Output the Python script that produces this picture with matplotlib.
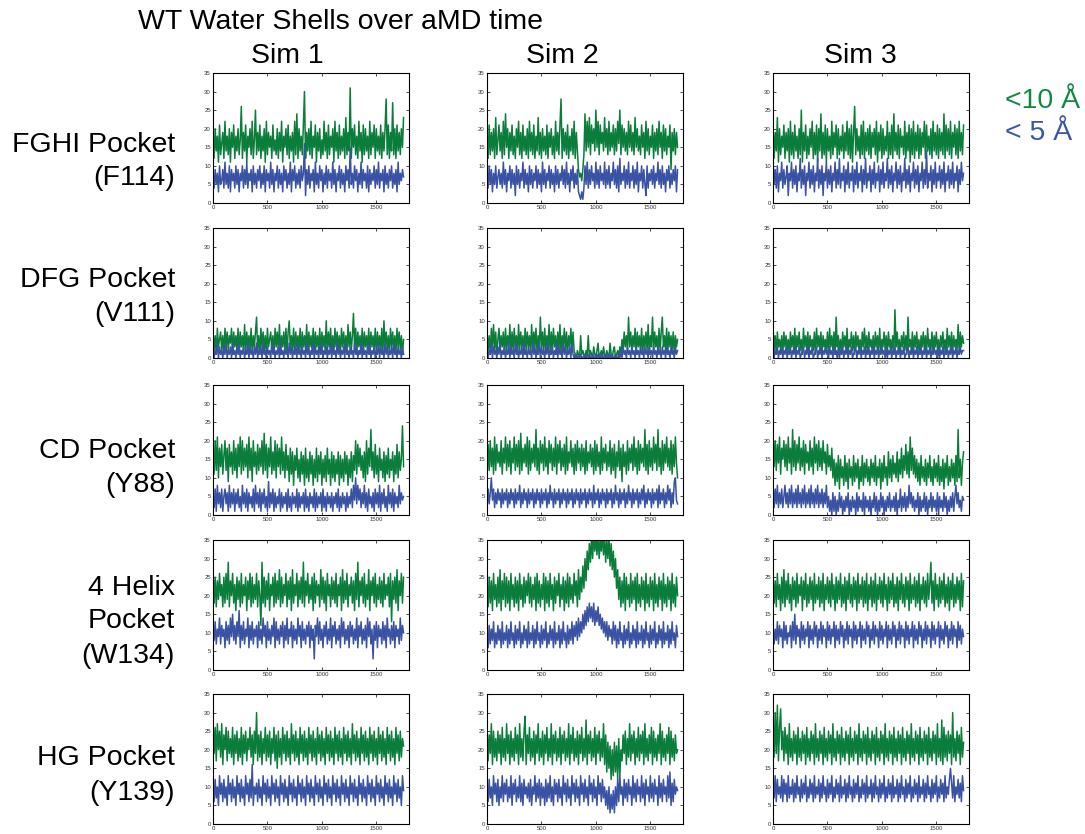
import matplotlib
import numpy as np

matplotlib.use("Agg")
import matplotlib.pyplot as plt

plt.rcParams["font.family"] = ["Liberation Sans", "DejaVu Sans"]

# water counts, one sample every 10 time units
STEP = 10

fghi_sim1_10 = [17, 12, 20, 14, 18, 11, 21, 13, 16, 19, 12, 22, 14, 18, 13, 20, 11, 19, 15, 21, 12, 18,
                14, 20, 13, 17, 26, 12, 19, 14, 21, 11, 18, 15, 20, 13, 22, 12, 17, 25, 13, 19, 14, 21,
                12, 18, 14, 20, 11, 22, 13, 19, 15, 18, 12, 21, 14, 17, 13, 20, 12, 19, 14, 22, 11, 18,
                15, 20, 13, 21, 12, 18, 14, 19, 11, 22, 13, 24, 12, 20, 14, 18, 13, 21, 30, 12, 19, 14,
                20, 13, 22, 12, 18, 15, 21, 11, 19, 14, 20, 12, 17, 13, 22, 14, 19, 12, 21, 13, 18, 15,
                20, 11, 22, 14, 19, 12, 21, 13, 18, 14, 20, 12, 23, 13, 19, 14, 31, 12, 20, 15, 21, 13,
                18, 12, 22, 14, 19, 11, 21, 13, 20, 14, 18, 12, 22, 13, 19, 15, 21, 12, 20, 14, 18, 13,
                21, 12, 19, 14, 20, 28, 13, 21, 12, 19, 14, 27, 13, 20, 12, 21, 14, 19, 13, 20, 15, 23]
fghi_sim1_5 = [7, 4, 9, 5, 8, 3, 10, 5, 6, 9, 4, 11, 5, 8, 4, 10, 3, 9, 6, 8, 4, 10,
               5, 9, 3, 8, 6, 10, 4, 9, 5, 11, 4, 8, 6, 9, 3, 10, 5, 8, 4, 9, 6, 10,
               4, 8, 5, 10, 3, 9, 6, 8, 4, 11, 5, 9, 3, 8, 6, 10, 4, 9, 5, 8, 3, 10,
               6, 9, 4, 8, 5, 11, 3, 9, 6, 10, 4, 8, 5, 9, 4, 10, 6, 8, 16, 2, 9, 5,
               10, 4, 8, 6, 9, 3, 11, 5, 8, 4, 10, 6, 9, 3, 8, 5, 10, 4, 9, 6, 8, 4,
               11, 5, 9, 3, 8, 6, 10, 4, 9, 5, 8, 3, 10, 6, 9, 4, 15, 5, 8, 4, 10, 6,
               9, 3, 8, 5, 11, 4, 9, 6, 8, 4, 10, 3, 9, 5, 8, 6, 10, 4, 9, 5, 11, 4,
               8, 6, 9, 3, 10, 5, 8, 4, 9, 6, 10, 4, 8, 5, 9, 3, 11, 5, 8, 6, 9, 7]
fghi_sim2_10 = [18, 12, 21, 13, 19, 14, 20, 12, 23, 13, 17, 21, 14, 19, 12, 22, 13, 24, 15, 20, 12, 19,
                14, 21, 13, 18, 12, 20, 15, 22, 13, 19, 12, 21, 14, 18, 13, 20, 12, 22, 14, 19, 13, 21,
                12, 18, 14, 23, 13, 19, 12, 20, 14, 18, 13, 21, 12, 19, 15, 20, 13, 18, 12, 22, 14, 19,
                13, 21, 28, 12, 20, 14, 19, 13, 21, 12, 18, 14, 20, 13, 22, 12, 19, 14, 9, 7, 8, 6,
                9, 13, 24, 14, 22, 15, 23, 13, 21, 16, 20, 14, 25, 15, 22, 13, 21, 16, 19, 14, 23, 15,
                20, 13, 22, 14, 19, 15, 21, 13, 20, 14, 22, 16, 25, 13, 21, 15, 20, 14, 19, 13, 22, 15,
                21, 14, 19, 13, 23, 15, 20, 14, 18, 13, 21, 15, 19, 12, 22, 14, 20, 13, 18, 15, 21, 12,
                19, 14, 20, 13, 22, 15, 19, 12, 21, 14, 20, 13, 18, 15, 21, 9, 19, 14, 20, 13, 19, 15]
fghi_sim2_5 = [7, 4, 10, 5, 9, 3, 8, 5, 10, 4, 7, 9, 5, 8, 4, 11, 5, 9, 3, 8, 6, 10,
               4, 9, 5, 8, 2, 10, 5, 9, 4, 8, 6, 11, 4, 9, 5, 8, 3, 10, 5, 9, 4, 8,
               6, 10, 4, 9, 5, 8, 3, 11, 5, 9, 4, 8, 6, 10, 4, 9, 5, 8, 3, 10, 5, 9,
               4, 8, 6, 10, 5, 9, 4, 11, 5, 8, 3, 9, 6, 10, 4, 8, 5, 9, 3, 2, 1, 3,
               1, 4, 10, 5, 11, 4, 9, 5, 10, 6, 8, 4, 11, 5, 9, 4, 10, 6, 8, 5, 11, 4,
               9, 5, 10, 4, 8, 6, 11, 5, 9, 4, 10, 3, 12, 5, 8, 6, 10, 4, 9, 5, 11, 4,
               8, 6, 10, 4, 9, 5, 11, 3, 8, 6, 10, 4, 9, 5, 2, 10, 4, 8, 6, 9, 5, 10,
               4, 8, 6, 11, 5, 9, 4, 10, 5, 8, 3, 9, 6, 10, 4, 8, 5, 9, 6, 10, 3, 9]
fghi_sim3_10 = [21, 12, 19, 14, 23, 11, 20, 13, 18, 15, 21, 12, 19, 14, 20, 11, 22, 13, 19, 12, 21, 14,
                18, 12, 20, 13, 25, 11, 19, 14, 21, 12, 18, 13, 20, 15, 22, 12, 19, 13, 21, 11, 20, 14,
                24, 12, 19, 13, 21, 11, 20, 14, 18, 12, 22, 13, 19, 15, 21, 12, 20, 13, 18, 14, 21, 12,
                19, 14, 22, 13, 20, 12, 21, 11, 19, 26, 13, 20, 14, 18, 12, 21, 13, 22, 12, 19, 14, 20,
                13, 21, 12, 19, 15, 20, 13, 22, 11, 19, 14, 21, 12, 20, 13, 18, 14, 22, 12, 19, 13, 21,
                12, 24, 14, 19, 13, 21, 12, 20, 15, 18, 13, 22, 12, 19, 14, 21, 11, 20, 13, 22, 12, 19,
                14, 21, 12, 20, 13, 19, 15, 22, 12, 21, 14, 18, 13, 20, 12, 22, 14, 19, 13, 21, 12, 20,
                14, 19, 13, 24, 12, 21, 14, 20, 13, 22, 12, 19, 15, 21, 13, 20, 12, 22, 14, 19, 13, 21]
fghi_sim3_5 = [12, 5, 9, 4, 10, 3, 8, 6, 11, 4, 9, 5, 7, 10, 2, 8, 6, 11, 4, 9, 5, 10,
               3, 8, 6, 12, 4, 9, 5, 10, 2, 8, 6, 11, 4, 9, 5, 10, 3, 8, 6, 12, 4, 9,
               5, 10, 2, 8, 6, 11, 4, 9, 5, 10, 3, 8, 6, 11, 4, 9, 5, 12, 4, 8, 6, 10,
               3, 9, 5, 11, 4, 8, 6, 10, 3, 9, 5, 11, 4, 8, 6, 10, 3, 9, 5, 12, 4, 8,
               6, 10, 3, 9, 5, 11, 4, 8, 6, 10, 3, 9, 5, 11, 4, 8, 6, 12, 4, 9, 5, 10,
               3, 8, 6, 11, 4, 9, 5, 10, 3, 8, 6, 12, 4, 9, 5, 10, 3, 8, 6, 11, 4, 9,
               5, 10, 3, 8, 6, 11, 4, 9, 5, 14, 4, 8, 6, 10, 3, 9, 5, 11, 4, 8, 6, 10,
               4, 9, 5, 11, 3, 8, 6, 10, 4, 9, 5, 11, 4, 8, 6, 10, 3, 9, 5, 11, 6, 8]

dfg_sim1_10 = [7, 2, 6, 1, 8, 3, 5, 7, 2, 6, 1, 8, 3, 7, 2, 6, 4, 8, 1, 7, 3, 6,
               2, 8, 1, 7, 3, 6, 2, 9, 1, 7, 3, 6, 2, 8, 1, 6, 3, 7, 11, 2, 6, 1,
               8, 3, 7, 2, 6, 1, 8, 3, 5, 7, 2, 6, 1, 8, 3, 7, 2, 9, 1, 6, 3, 7,
               2, 8, 1, 7, 10, 3, 6, 2, 8, 1, 7, 3, 6, 2, 8, 1, 7, 3, 6, 2, 9, 1,
               7, 3, 6, 2, 8, 1, 7, 3, 6, 2, 8, 1, 7, 3, 6, 2, 10, 1, 7, 3, 8, 2,
               6, 1, 8, 3, 7, 2, 6, 1, 8, 3, 7, 2, 6, 1, 9, 3, 7, 2, 6, 12, 3, 8,
               1, 7, 3, 6, 2, 8, 1, 7, 3, 6, 2, 8, 1, 7, 3, 6, 2, 8, 1, 7, 3, 6,
               2, 8, 1, 10, 3, 7, 2, 6, 1, 8, 3, 7, 2, 6, 1, 8, 3, 7, 2, 6, 1, 5]
dfg_sim1_5 = [3, 0, 2, 1, 4, 0, 3, 1, 2, 0, 3, 1, 4, 0, 2, 1, 3, 0, 4, 1, 2, 0,
              3, 1, 4, 0, 2, 1, 3, 0, 2, 1, 4, 0, 3, 1, 2, 0, 3, 1, 4, 0, 2, 1,
              3, 0, 4, 1, 2, 0, 3, 1, 2, 0, 4, 1, 3, 0, 2, 1, 3, 0, 4, 1, 2, 0,
              3, 1, 2, 0, 4, 1, 3, 0, 2, 1, 3, 0, 4, 1, 2, 0, 3, 1, 2, 0, 4, 1,
              3, 0, 2, 1, 4, 0, 3, 1, 2, 0, 3, 1, 4, 0, 2, 1, 3, 0, 2, 1, 4, 0,
              3, 1, 2, 0, 4, 1, 3, 0, 2, 1, 3, 0, 4, 1, 2, 0, 3, 1, 2, 0, 4, 1,
              3, 0, 2, 1, 4, 0, 3, 1, 2, 0, 3, 1, 4, 0, 2, 1, 3, 0, 2, 1, 4, 0,
              3, 1, 2, 0, 4, 1, 3, 0, 2, 1, 3, 0, 4, 1, 2, 0, 3, 1, 2, 0, 3, 1]
dfg_sim2_10 = [7, 2, 6, 1, 8, 3, 9, 2, 7, 1, 5, 8, 2, 6, 3, 7, 1, 8, 2, 6, 3, 9,
               1, 7, 2, 8, 3, 6, 1, 9, 2, 7, 3, 6, 1, 8, 2, 7, 3, 6, 1, 9, 2, 7,
               3, 8, 1, 6, 2, 11, 3, 7, 1, 8, 2, 6, 3, 9, 1, 7, 2, 8, 3, 6, 1, 7,
               2, 9, 1, 6, 3, 8, 2, 7, 1, 6, 3, 8, 2, 7, 2, 1, 0, 2, 1, 0, 6, 1,
               2, 1, 0, 2, 1, 6, 0, 2, 1, 0, 3, 1, 0, 2, 4, 0, 1, 2, 0, 3, 1, 0,
               2, 1, 0, 4, 1, 0, 2, 3, 0, 1, 2, 0, 3, 1, 5, 2, 7, 3, 6, 2, 11, 3,
               7, 2, 6, 3, 8, 1, 7, 3, 6, 2, 8, 1, 6, 3, 7, 2, 9, 1, 6, 3, 11, 2,
               7, 3, 6, 1, 8, 2, 7, 11, 3, 6, 2, 8, 1, 7, 3, 6, 2, 7, 1, 6, 3, 5]
dfg_sim2_5 = [3, 0, 2, 1, 4, 0, 3, 1, 2, 0, 3, 1, 4, 0, 2, 1, 3, 0, 2, 1, 4, 0,
              3, 1, 2, 0, 4, 1, 3, 0, 2, 1, 3, 0, 4, 1, 2, 0, 3, 1, 2, 0, 4, 1,
              3, 0, 2, 1, 4, 0, 3, 1, 2, 0, 3, 1, 4, 0, 2, 1, 3, 0, 2, 1, 4, 0,
              3, 1, 2, 0, 4, 1, 3, 0, 2, 1, 3, 0, 4, 1, 0, 1, 0, 0, 1, 0, 1, 0,
              0, 1, 0, 0, 1, 0, 1, 0, 0, 1, 0, 0, 1, 0, 1, 0, 0, 1, 0, 0, 1, 0,
              1, 0, 0, 1, 0, 1, 0, 0, 1, 0, 0, 1, 0, 2, 0, 3, 1, 2, 0, 3, 1, 2,
              0, 3, 1, 2, 0, 3, 1, 2, 0, 3, 1, 2, 0, 3, 1, 2, 0, 3, 1, 2, 0, 3,
              1, 2, 0, 3, 1, 2, 0, 3, 1, 2, 0, 3, 1, 2, 0, 3, 1, 2, 0, 3, 1, 2]
dfg_sim3_10 = [9, 2, 6, 1, 7, 3, 5, 2, 6, 1, 7, 3, 6, 2, 5, 1, 7, 3, 6, 2, 8, 1,
               6, 3, 7, 2, 5, 1, 8, 3, 6, 2, 7, 1, 6, 3, 5, 2, 7, 1, 8, 3, 6, 2,
               7, 1, 6, 3, 5, 2, 7, 1, 8, 3, 6, 2, 7, 1, 11, 3, 6, 2, 5, 1, 7, 3,
               6, 2, 8, 1, 5, 3, 7, 2, 6, 1, 7, 3, 6, 2, 5, 1, 7, 3, 8, 2, 6, 1,
               7, 3, 5, 2, 6, 1, 7, 3, 6, 2, 8, 1, 5, 3, 7, 2, 6, 1, 7, 3, 5, 2,
               6, 1, 13, 3, 7, 2, 5, 1, 6, 3, 7, 2, 6, 1, 11, 3, 5, 2, 7, 1, 6, 3,
               7, 2, 5, 1, 6, 3, 7, 2, 6, 1, 8, 3, 5, 2, 7, 1, 6, 3, 7, 2, 5, 1,
               6, 3, 7, 2, 5, 1, 8, 3, 6, 2, 7, 1, 6, 3, 5, 2, 9, 1, 7, 3, 6, 4]
dfg_sim3_5 = [3, 0, 2, 1, 3, 0, 2, 1, 3, 0, 2, 1, 3, 0, 2, 1, 3, 0, 2, 1, 3, 0,
              2, 1, 3, 0, 1, 2, 3, 0, 2, 1, 3, 0, 2, 1, 3, 0, 1, 2, 3, 0, 2, 1,
              3, 0, 2, 1, 3, 1, 2, 0, 3, 1, 2, 0, 3, 1, 2, 0, 3, 0, 2, 1, 3, 0,
              2, 1, 3, 0, 2, 1, 3, 0, 1, 2, 3, 0, 2, 1, 3, 0, 2, 1, 3, 0, 2, 1,
              3, 0, 2, 1, 3, 0, 2, 1, 3, 0, 2, 1, 3, 1, 2, 0, 3, 0, 2, 1, 3, 0,
              2, 1, 3, 0, 2, 1, 3, 0, 2, 1, 3, 0, 1, 2, 3, 0, 2, 1, 3, 0, 2, 1,
              3, 0, 2, 1, 3, 0, 2, 1, 3, 0, 2, 1, 3, 0, 2, 1, 3, 1, 2, 0, 3, 0,
              2, 1, 3, 0, 2, 1, 3, 0, 2, 1, 3, 0, 2, 1, 3, 0, 2, 1, 3, 1, 2, 2]

cd_sim1_10 = [17, 11, 20, 12, 21, 10, 18, 13, 19, 11, 16, 20, 12, 18, 9, 19, 13, 17, 11, 20, 12, 18,
              10, 19, 13, 21, 11, 20, 12, 18, 13, 19, 10, 21, 12, 18, 9, 20, 13, 17, 11, 19, 12, 18,
              13, 20, 11, 22, 12, 19, 10, 18, 13, 21, 11, 17, 12, 20, 10, 19, 13, 18, 11, 21, 12, 17,
              10, 19, 12, 16, 9, 18, 11, 17, 8, 16, 12, 18, 10, 15, 9, 17, 11, 16, 8, 18, 10, 15,
              9, 17, 11, 16, 8, 15, 10, 18, 9, 16, 11, 17, 8, 15, 10, 16, 9, 18, 11, 15, 8, 17,
              10, 16, 9, 15, 11, 17, 8, 16, 10, 15, 9, 17, 11, 16, 8, 15, 10, 17, 9, 16, 12, 20,
              11, 19, 13, 18, 12, 16, 10, 17, 9, 20, 11, 18, 13, 23, 12, 17, 10, 19, 11, 16, 9, 18,
              12, 15, 10, 17, 9, 16, 11, 18, 10, 15, 12, 17, 9, 16, 11, 19, 10, 17, 12, 15, 24, 13]
cd_sim1_5 = [6, 2, 7, 1, 8, 3, 6, 2, 7, 1, 5, 7, 3, 6, 1, 8, 2, 6, 3, 7, 1, 6,
             3, 7, 2, 5, 1, 8, 3, 6, 2, 7, 1, 6, 3, 5, 2, 7, 1, 8, 3, 6, 2, 7,
             1, 6, 3, 7, 2, 5, 1, 9, 2, 6, 3, 7, 1, 6, 2, 5, 3, 7, 1, 6, 2, 5,
             3, 6, 1, 7, 2, 5, 1, 6, 3, 5, 2, 7, 1, 6, 2, 5, 3, 6, 1, 7, 2, 5,
             1, 6, 3, 5, 2, 7, 1, 6, 2, 5, 3, 6, 1, 7, 2, 5, 1, 6, 3, 5, 2, 6,
             1, 5, 3, 6, 2, 7, 1, 5, 2, 6, 3, 5, 1, 6, 2, 5, 3, 7, 2, 8, 4, 10,
             3, 8, 4, 7, 2, 6, 3, 8, 2, 6, 1, 7, 3, 5, 2, 6, 1, 7, 3, 6, 2, 8,
             1, 6, 3, 7, 2, 5, 1, 8, 3, 6, 2, 7, 1, 6, 3, 5, 2, 8, 3, 6, 4, 5]
cd_sim2_10 = [10, 19, 12, 20, 13, 18, 11, 21, 12, 19, 14, 17, 13, 20, 11, 18, 14, 21, 12, 19, 13, 20,
              11, 18, 14, 21, 12, 19, 13, 20, 11, 22, 12, 18, 14, 19, 13, 21, 11, 20, 12, 18, 14, 19,
              13, 23, 12, 18, 11, 20, 14, 19, 12, 21, 13, 18, 11, 20, 14, 19, 12, 18, 13, 21, 11, 19,
              14, 20, 12, 18, 13, 19, 11, 21, 12, 17, 14, 20, 13, 18, 11, 19, 12, 20, 14, 18, 12, 19,
              13, 18, 11, 20, 12, 17, 14, 19, 13, 18, 11, 20, 12, 19, 13, 17, 11, 21, 12, 18, 14, 19,
              12, 17, 13, 20, 11, 18, 12, 19, 10, 17, 13, 20, 12, 18, 9, 19, 13, 17, 11, 20, 12, 18,
              14, 19, 12, 21, 13, 18, 11, 20, 12, 19, 14, 18, 13, 23, 12, 19, 11, 20, 13, 18, 12, 21,
              14, 19, 12, 23, 13, 18, 11, 20, 12, 19, 14, 21, 13, 18, 12, 20, 11, 19, 13, 21, 14, 10]
cd_sim2_5 = [2, 7, 3, 6, 10, 4, 7, 2, 6, 3, 7, 4, 6, 2, 7, 3, 6, 4, 7, 2, 6, 3,
             7, 4, 6, 2, 7, 3, 6, 4, 8, 2, 6, 3, 7, 4, 6, 2, 7, 3, 6, 4, 7, 2,
             6, 3, 7, 4, 6, 2, 7, 3, 6, 4, 7, 2, 6, 3, 8, 4, 6, 2, 7, 3, 6, 4,
             7, 2, 6, 3, 7, 4, 6, 2, 7, 3, 6, 4, 7, 2, 6, 3, 7, 4, 6, 2, 7, 3,
             6, 4, 7, 2, 6, 3, 7, 4, 6, 2, 8, 3, 6, 4, 7, 2, 6, 3, 7, 4, 6, 2,
             7, 3, 6, 4, 7, 2, 6, 3, 8, 4, 6, 2, 7, 3, 6, 4, 7, 2, 6, 3, 8, 4,
             6, 2, 7, 3, 6, 4, 7, 2, 6, 3, 7, 4, 8, 2, 6, 3, 7, 4, 6, 2, 7, 3,
             6, 4, 7, 2, 8, 3, 6, 4, 7, 2, 6, 3, 8, 4, 7, 2, 6, 3, 9, 10, 4, 3]
cd_sim3_10 = [22, 13, 20, 12, 19, 14, 21, 11, 18, 15, 20, 13, 19, 12, 21, 14, 18, 11, 23, 13, 20, 12,
              19, 14, 21, 12, 18, 13, 20, 11, 19, 14, 17, 12, 20, 13, 18, 11, 21, 14, 19, 12, 20, 13,
              18, 12, 20, 14, 17, 11, 19, 13, 16, 12, 18, 10, 15, 8, 14, 9, 16, 7, 15, 10, 13, 8,
              16, 9, 14, 7, 15, 10, 13, 8, 16, 9, 14, 10, 15, 7, 13, 9, 16, 8, 14, 10, 15, 9,
              13, 8, 15, 10, 14, 9, 16, 8, 13, 10, 15, 7, 14, 9, 16, 10, 13, 8, 17, 10, 15, 9,
              16, 11, 14, 10, 17, 9, 15, 11, 18, 10, 16, 12, 19, 11, 17, 10, 21, 12, 18, 11, 16, 10,
              15, 9, 14, 8, 16, 10, 13, 9, 15, 8, 14, 10, 16, 9, 13, 8, 15, 10, 14, 9, 16, 8,
              13, 9, 15, 7, 14, 10, 16, 8, 13, 9, 15, 10, 14, 8, 16, 9, 23, 10, 15, 8, 14, 17]
cd_sim3_5 = [8, 2, 7, 3, 8, 2, 6, 3, 7, 2, 5, 8, 3, 6, 2, 7, 3, 8, 2, 6, 3, 7,
             2, 8, 3, 6, 2, 7, 3, 8, 2, 6, 3, 7, 2, 8, 3, 6, 2, 7, 3, 8, 2, 6,
             3, 7, 2, 6, 3, 8, 2, 5, 1, 4, 0, 6, 1, 5, 0, 4, 1, 6, 2, 5, 0, 4,
             1, 5, 2, 6, 0, 4, 1, 5, 2, 4, 0, 6, 1, 5, 2, 4, 1, 6, 0, 5, 2, 4,
             1, 5, 0, 4, 2, 6, 1, 5, 0, 4, 1, 6, 2, 5, 0, 4, 1, 5, 2, 6, 1, 4,
             2, 5, 1, 6, 0, 4, 2, 7, 1, 5, 2, 6, 1, 5, 2, 8, 3, 6, 2, 5, 1, 4,
             2, 6, 0, 5, 1, 4, 2, 6, 1, 5, 0, 4, 2, 6, 1, 5, 2, 4, 1, 6, 0, 5,
             2, 4, 1, 6, 2, 5, 0, 4, 1, 5, 2, 6, 1, 5, 8, 3, 6, 2, 4, 1, 5, 4]

helix_sim1_10 = [27, 18, 25, 17, 24, 19, 26, 20, 23, 17, 25, 18, 26, 19, 29, 17, 24, 20, 26, 18, 23, 16,
                 25, 19, 24, 17, 26, 18, 23, 20, 25, 16, 24, 19, 26, 17, 25, 18, 23, 19, 26, 17, 24, 20,
                 12, 29, 18, 25, 17, 24, 19, 26, 16, 23, 20, 25, 17, 26, 18, 24, 19, 27, 17, 25, 18, 23,
                 20, 26, 17, 24, 19, 25, 16, 27, 18, 23, 20, 26, 17, 24, 19, 25, 18, 29, 17, 24, 20, 26,
                 18, 23, 19, 25, 16, 26, 18, 24, 20, 23, 17, 27, 19, 25, 18, 24, 16, 26, 20, 23, 17, 25,
                 19, 24, 18, 26, 17, 23, 20, 25, 16, 27, 18, 24, 19, 26, 17, 23, 20, 25, 18, 24, 16, 26,
                 19, 29, 17, 24, 20, 25, 18, 26, 17, 23, 19, 27, 16, 24, 20, 25, 18, 26, 17, 23, 19, 25,
                 18, 24, 17, 26, 19, 23, 20, 25, 17, 26, 13, 24, 19, 25, 18, 27, 16, 24, 20, 26, 18, 25]
helix_sim1_5 = [12, 8, 13, 7, 11, 9, 14, 7, 12, 9, 11, 6, 13, 8, 12, 7, 14, 9, 15, 8, 12, 7,
                13, 9, 16, 6, 12, 8, 13, 7, 11, 9, 14, 6, 12, 8, 13, 7, 11, 9, 12, 6, 13, 8,
                11, 7, 14, 9, 12, 6, 13, 8, 11, 7, 12, 9, 14, 6, 13, 8, 11, 7, 12, 9, 13, 6,
                12, 8, 14, 7, 11, 9, 13, 6, 12, 8, 11, 7, 14, 9, 12, 6, 13, 8, 11, 7, 12, 9,
                13, 6, 12, 8, 11, 3, 12, 9, 14, 7, 13, 8, 11, 6, 12, 9, 13, 7, 11, 8, 14, 6,
                12, 9, 13, 7, 11, 8, 12, 6, 14, 9, 13, 7, 11, 8, 12, 6, 13, 9, 12, 7, 11, 8,
                14, 6, 12, 9, 13, 7, 11, 8, 12, 6, 14, 9, 13, 7, 11, 3, 12, 8, 13, 6, 12, 9,
                11, 7, 13, 8, 12, 6, 14, 9, 11, 7, 12, 8, 13, 6, 12, 9, 11, 7, 14, 8, 12, 10]
helix_sim2_10 = [23, 17, 25, 18, 24, 16, 26, 19, 23, 17, 25, 18, 27, 16, 24, 19, 26, 17, 25, 18, 24, 16,
                 26, 19, 23, 17, 25, 18, 24, 16, 26, 19, 23, 17, 25, 18, 24, 20, 26, 18, 25, 17, 23, 19,
                 25, 16, 26, 18, 24, 17, 23, 19, 26, 16, 25, 18, 24, 17, 26, 19, 23, 16, 25, 18, 24, 20,
                 26, 17, 23, 19, 25, 16, 24, 18, 26, 17, 25, 19, 23, 18, 26, 20, 24, 17, 27, 19, 25, 21,
                 28, 22, 30, 24, 32, 27, 34, 29, 36, 30, 37, 32, 36, 31, 37, 30, 35, 32, 37, 31, 36, 29,
                 35, 30, 36, 28, 34, 27, 32, 25, 30, 22, 27, 19, 25, 17, 24, 18, 26, 16, 25, 19, 23, 17,
                 26, 18, 24, 19, 25, 16, 26, 18, 23, 17, 25, 19, 24, 16, 26, 18, 23, 17, 25, 19, 24, 16,
                 26, 18, 23, 17, 25, 19, 24, 16, 26, 18, 23, 17, 25, 19, 24, 16, 26, 18, 23, 17, 25, 20]
helix_sim2_5 = [10, 6, 12, 7, 11, 8, 13, 6, 10, 7, 12, 8, 11, 6, 13, 7, 10, 8, 12, 6, 11, 7,
                13, 8, 10, 6, 12, 7, 11, 8, 13, 6, 10, 7, 12, 8, 11, 6, 13, 7, 10, 8, 12, 6,
                11, 7, 13, 8, 10, 6, 12, 7, 11, 8, 13, 6, 10, 7, 12, 8, 11, 6, 13, 7, 10, 8,
                12, 6, 11, 7, 13, 8, 10, 6, 12, 7, 11, 8, 13, 7, 12, 9, 13, 8, 14, 9, 13, 10,
                15, 11, 16, 12, 17, 13, 18, 14, 17, 13, 18, 12, 16, 13, 17, 12, 15, 11, 14, 10, 13, 9,
                13, 8, 12, 9, 11, 7, 13, 8, 12, 6, 11, 7, 13, 8, 10, 6, 12, 7, 11, 8, 13, 6,
                10, 7, 12, 8, 11, 6, 13, 7, 10, 8, 12, 6, 11, 7, 13, 8, 10, 6, 12, 7, 11, 8,
                13, 6, 10, 7, 12, 8, 11, 6, 13, 7, 10, 8, 12, 6, 11, 7, 13, 8, 10, 6, 12, 9]
helix_sim3_10 = [25, 18, 24, 17, 26, 19, 23, 16, 25, 18, 27, 17, 24, 19, 26, 18, 23, 16, 25, 19, 24, 17,
                 26, 18, 23, 20, 25, 16, 24, 19, 26, 17, 23, 18, 25, 19, 24, 16, 26, 18, 23, 19, 25, 17,
                 24, 18, 26, 16, 23, 19, 25, 18, 24, 17, 26, 19, 23, 16, 25, 18, 24, 19, 26, 17, 23, 18,
                 25, 16, 24, 19, 26, 18, 23, 17, 25, 19, 24, 16, 26, 18, 23, 19, 25, 17, 24, 18, 26, 16,
                 23, 19, 25, 17, 24, 18, 26, 16, 23, 19, 25, 18, 24, 17, 26, 19, 23, 16, 25, 18, 24, 19,
                 26, 17, 23, 18, 25, 16, 24, 19, 26, 18, 23, 17, 25, 19, 24, 16, 26, 18, 23, 19, 25, 17,
                 24, 18, 26, 16, 23, 19, 25, 18, 24, 17, 26, 19, 23, 29, 18, 24, 16, 26, 19, 23, 17, 25,
                 18, 24, 19, 26, 17, 23, 18, 25, 16, 24, 19, 26, 17, 23, 18, 25, 19, 24, 16, 26, 17, 24]
helix_sim3_5 = [12, 7, 11, 8, 13, 7, 12, 9, 11, 6, 13, 8, 12, 7, 10, 9, 12, 6, 13, 8, 15, 7,
                12, 9, 11, 6, 13, 8, 12, 7, 11, 9, 13, 6, 12, 8, 11, 7, 13, 9, 12, 6, 11, 8,
                13, 7, 12, 9, 11, 6, 13, 8, 12, 7, 11, 9, 13, 6, 12, 8, 11, 7, 13, 9, 12, 6,
                11, 8, 13, 7, 12, 9, 11, 6, 13, 8, 12, 7, 11, 9, 13, 6, 12, 8, 11, 7, 13, 9,
                12, 6, 11, 8, 13, 7, 12, 9, 11, 6, 13, 8, 12, 7, 11, 9, 13, 6, 12, 8, 11, 7,
                13, 9, 12, 6, 11, 8, 13, 7, 12, 9, 11, 6, 13, 8, 12, 7, 11, 9, 13, 6, 12, 8,
                11, 7, 13, 9, 12, 6, 11, 8, 13, 7, 12, 9, 11, 6, 13, 8, 12, 7, 11, 9, 13, 6,
                12, 8, 11, 7, 13, 9, 12, 6, 11, 8, 13, 7, 12, 9, 11, 6, 13, 8, 12, 7, 11, 9]

hg_sim1_10 = [28, 19, 26, 17, 27, 20, 25, 18, 27, 16, 24, 20, 26, 17, 25, 19, 23, 18, 26, 16, 24, 19,
              25, 17, 23, 18, 26, 16, 24, 19, 25, 17, 23, 20, 26, 18, 24, 16, 25, 19, 30, 17, 24, 18,
              25, 16, 23, 19, 26, 17, 24, 18, 25, 16, 23, 19, 26, 17, 24, 15, 25, 18, 23, 16, 26, 19,
              24, 17, 25, 18, 23, 16, 27, 19, 24, 17, 25, 18, 23, 16, 26, 19, 24, 17, 25, 18, 23, 16,
              26, 19, 24, 17, 25, 18, 23, 16, 26, 19, 24, 17, 25, 18, 23, 16, 26, 19, 24, 17, 25, 18,
              23, 16, 26, 19, 24, 17, 25, 18, 23, 16, 26, 19, 24, 17, 25, 18, 23, 16, 27, 19, 24, 17,
              25, 18, 23, 16, 26, 19, 24, 17, 25, 18, 23, 16, 26, 19, 24, 17, 25, 18, 23, 16, 26, 19,
              24, 17, 25, 18, 23, 16, 26, 19, 24, 17, 25, 18, 23, 16, 26, 19, 24, 17, 25, 18, 23, 21]
hg_sim1_5 = [11, 6, 12, 7, 10, 5, 13, 8, 11, 6, 12, 7, 10, 5, 13, 8, 11, 6, 12, 7, 10, 5,
             13, 8, 11, 6, 12, 7, 10, 5, 13, 8, 11, 6, 12, 7, 16, 5, 10, 8, 11, 6, 12, 7,
             10, 5, 13, 8, 11, 6, 12, 7, 10, 5, 13, 8, 11, 6, 12, 7, 10, 5, 13, 8, 11, 6,
             12, 7, 10, 5, 13, 8, 11, 6, 12, 7, 10, 5, 13, 8, 11, 6, 12, 7, 10, 5, 13, 8,
             11, 6, 12, 7, 10, 5, 13, 8, 11, 6, 12, 7, 10, 5, 13, 8, 11, 6, 12, 7, 10, 5,
             13, 8, 11, 6, 12, 7, 10, 5, 13, 8, 11, 6, 12, 7, 10, 5, 13, 8, 11, 6, 12, 7,
             10, 5, 13, 8, 11, 6, 12, 7, 10, 5, 13, 8, 11, 6, 12, 7, 10, 5, 13, 8, 11, 6,
             12, 7, 10, 5, 13, 8, 11, 6, 12, 7, 10, 5, 13, 8, 11, 6, 12, 7, 10, 5, 13, 9]
hg_sim2_10 = [26, 17, 24, 19, 27, 16, 25, 18, 23, 17, 25, 19, 24, 16, 26, 18, 23, 17, 27, 19, 24, 16,
              25, 18, 23, 17, 26, 19, 24, 16, 27, 18, 23, 17, 25, 29, 16, 24, 19, 26, 17, 23, 18, 25,
              16, 24, 19, 27, 17, 23, 18, 25, 16, 24, 19, 26, 17, 23, 18, 27, 16, 24, 19, 25, 17, 23,
              18, 26, 16, 24, 19, 25, 17, 23, 18, 27, 16, 24, 19, 26, 17, 23, 18, 25, 16, 24, 19, 26,
              17, 23, 18, 28, 16, 24, 19, 25, 17, 23, 18, 26, 16, 24, 19, 25, 17, 23, 18, 27, 16, 24,
              14, 22, 15, 21, 12, 20, 13, 22, 14, 21, 12, 23, 13, 20, 17, 24, 19, 25, 16, 23, 18, 27,
              17, 24, 19, 25, 16, 23, 18, 26, 17, 24, 19, 25, 16, 27, 18, 23, 17, 24, 19, 26, 16, 25,
              18, 23, 17, 24, 19, 27, 16, 25, 18, 23, 17, 24, 19, 26, 16, 25, 18, 23, 17, 24, 19, 20]
hg_sim2_5 = [11, 6, 12, 7, 10, 5, 13, 8, 11, 6, 12, 5, 10, 7, 13, 6, 11, 8, 12, 6, 10, 7,
             13, 5, 11, 8, 12, 6, 10, 7, 13, 6, 11, 5, 12, 8, 10, 7, 11, 6, 12, 5, 10, 8,
             13, 6, 11, 7, 12, 5, 11, 7, 10, 5, 12, 6, 11, 7, 13, 6, 10, 5, 12, 8, 11, 6,
             12, 7, 10, 5, 13, 8, 11, 6, 12, 7, 10, 5, 13, 8, 11, 6, 12, 7, 10, 5, 13, 8,
             11, 6, 12, 7, 10, 5, 13, 8, 11, 6, 12, 7, 10, 5, 13, 8, 11, 6, 12, 7, 10, 5,
             9, 4, 10, 3, 8, 4, 9, 3, 10, 5, 12, 6, 13, 8, 10, 5, 12, 7, 11, 6, 12, 8,
             10, 5, 13, 7, 11, 6, 12, 8, 10, 6, 13, 7, 11, 5, 12, 8, 10, 6, 13, 7, 11, 6,
             12, 8, 10, 5, 13, 7, 11, 6, 12, 8, 10, 6, 13, 7, 14, 5, 11, 6, 12, 8, 10, 9]
hg_sim3_10 = [27, 18, 30, 19, 32, 17, 26, 31, 20, 25, 17, 26, 19, 24, 16, 27, 18, 23, 17, 25, 19, 24,
              16, 26, 18, 23, 17, 25, 19, 24, 16, 26, 18, 23, 17, 25, 19, 24, 16, 27, 18, 23, 17, 25,
              19, 24, 16, 26, 18, 23, 17, 25, 19, 24, 16, 27, 18, 23, 17, 25, 19, 24, 16, 26, 18, 23,
              17, 25, 19, 24, 16, 26, 18, 23, 17, 25, 19, 24, 16, 27, 18, 23, 17, 25, 19, 24, 16, 26,
              18, 23, 17, 25, 19, 24, 16, 26, 18, 23, 17, 25, 19, 24, 16, 27, 18, 23, 17, 25, 19, 24,
              16, 26, 18, 23, 17, 25, 19, 24, 16, 26, 18, 23, 17, 25, 19, 24, 16, 27, 18, 23, 17, 25,
              19, 24, 16, 26, 18, 23, 17, 25, 19, 24, 16, 26, 18, 23, 17, 25, 19, 24, 16, 27, 18, 23,
              17, 28, 16, 26, 18, 24, 17, 25, 19, 24, 16, 30, 18, 23, 17, 25, 19, 24, 16, 26, 18, 22]
hg_sim3_5 = [11, 7, 13, 6, 12, 8, 10, 7, 13, 6, 12, 8, 11, 6, 13, 7, 10, 8, 12, 6, 11, 7,
             13, 8, 10, 6, 12, 7, 11, 8, 13, 6, 10, 7, 12, 8, 11, 6, 13, 7, 10, 8, 12, 6,
             11, 7, 13, 8, 10, 6, 12, 7, 11, 8, 13, 6, 10, 7, 12, 8, 11, 6, 13, 7, 10, 8,
             12, 6, 11, 7, 13, 8, 10, 6, 12, 7, 11, 8, 13, 6, 10, 7, 12, 8, 11, 6, 13, 7,
             10, 8, 12, 6, 11, 7, 13, 8, 10, 6, 12, 7, 11, 8, 13, 6, 10, 7, 12, 8, 11, 6,
             13, 7, 10, 8, 12, 6, 11, 7, 13, 8, 10, 6, 12, 7, 11, 8, 13, 6, 10, 7, 12, 8,
             11, 6, 13, 7, 10, 8, 12, 6, 11, 7, 13, 8, 10, 6, 12, 7, 11, 8, 13, 6, 10, 7,
             12, 8, 11, 6, 13, 7, 10, 8, 12, 15, 11, 7, 13, 6, 10, 8, 12, 7, 11, 6, 13, 9]

sim_titles = ["Sim 1", "Sim 2", "Sim 3"]
row_labels = [["FGHI Pocket", "(F114)"], ["DFG Pocket", "(V111)"], ["CD Pocket", "(Y88)"],
              ["4 Helix", "Pocket", "(W134)"], ["HG Pocket", "(Y139)"]]
grid = [
    [(fghi_sim1_10, fghi_sim1_5), (fghi_sim2_10, fghi_sim2_5), (fghi_sim3_10, fghi_sim3_5)],
    [(dfg_sim1_10, dfg_sim1_5), (dfg_sim2_10, dfg_sim2_5), (dfg_sim3_10, dfg_sim3_5)],
    [(cd_sim1_10, cd_sim1_5), (cd_sim2_10, cd_sim2_5), (cd_sim3_10, cd_sim3_5)],
    [(helix_sim1_10, helix_sim1_5), (helix_sim2_10, helix_sim2_5), (helix_sim3_10, helix_sim3_5)],
    [(hg_sim1_10, hg_sim1_5), (hg_sim2_10, hg_sim2_5), (hg_sim3_10, hg_sim3_5)],
]

GREEN = "#0b7d3b"
BLUE = "#3a52a3"
W, H = 1085, 834
FS = 20.5

col_left = [213, 487, 773]
row_top = [73, 228, 385, 540, 694]
ax_w, ax_h = 196, 130

fig = plt.figure(figsize=(W / 100, H / 100), dpi=100)

for r, row in enumerate(grid):
    for c, (shell10, shell5) in enumerate(row):
        ax = fig.add_axes([col_left[c] / W, 1 - (row_top[r] + ax_h) / H, ax_w / W, ax_h / H])
        for values, color in ((shell10, GREEN), (shell5, BLUE)):
            t = np.arange(len(values)) * STEP
            ax.plot(t, values, color=color, linewidth=1.1)
        ax.set_xlim(0, 1800)
        ax.set_ylim(0, 35)
        ax.set_xticks([0, 500, 1000, 1500])
        ax.set_yticks(range(0, 36, 5))
        ax.tick_params(direction="in", length=2.5, width=0.5, labelsize=4.3,
                       labelcolor="#333333", top=True, right=True, pad=1.5)
        for spine in ax.spines.values():
            spine.set_linewidth(0.8)

fig.text(340 / W, 1 - 22 / H, "WT Water Shells over aMD time", ha="center", va="center", fontsize=FS)
sim_x = [287, 562, 860]
for c, name in enumerate(sim_titles):
    fig.text(sim_x[c] / W, 1 - 56 / H, name, ha="center", va="center", fontsize=FS)

label_y = [[145, 178], [280, 314], [451, 485], [588, 621, 656], [758, 793]]
for r, lines in enumerate(row_labels):
    for text, y in zip(lines, label_y[r]):
        fig.text(175 / W, 1 - y / H, text, ha="right", va="center", fontsize=FS)

fig.text(1005 / W, 1 - 101 / H, "<10 Å", color="#118844", ha="left", va="center", fontsize=FS)
fig.text(1005 / W, 1 - 133 / H, "< 5 Å", color="#3d55a5", ha="left", va="center", fontsize=FS)

fig.savefig("out.png", dpi=100)
plt.close(fig)
